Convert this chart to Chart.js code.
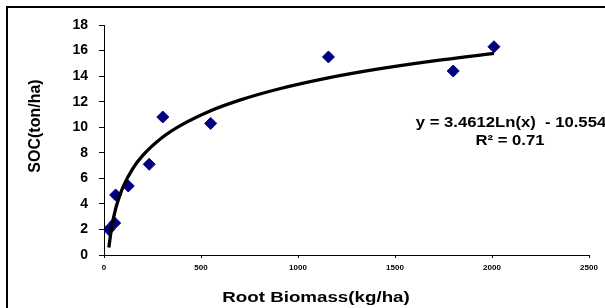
<!DOCTYPE html>
<html>

<head>
    <meta charset="utf-8">
    <title>SOC vs Root Biomass</title>
    <script src="https://cdn.jsdelivr.net/npm/chart.js"></script>
    <style>
        body {
            margin: 0;
            background: #fff;
        }

        #frame {
            position: absolute;
            left: 6px;
            top: 6px;
            width: 1000px;
            height: 1000px;
            border: 2px solid #000;
        }

        #graph {
            position: absolute;
            left: 0;
            top: 0;
        }
    </style>
</head>

<body>
    <div id="frame"></div>
    <canvas id="graph" width="605" height="308"></canvas>
    <script>
        // measured points
        const rootBiomass = [25, 55, 60, 125, 233, 303, 550, 1157, 1800, 2010];
        const soc = [2.0, 2.5, 4.7, 5.4, 7.1, 10.8, 10.3, 15.5, 14.4, 16.3];

        // log trend line
        const trendX = [25, 40, 60, 80, 100, 150, 200, 300, 400, 550, 700, 900, 1150, 1400, 1700, 2010];
        const trendY = [0.59, 2.21, 3.62, 4.61, 5.39, 6.79, 7.79, 9.19, 10.18, 11.29, 12.12, 12.99, 13.84, 14.52, 15.19, 15.78];

        const xTicks = [0, 500, 1000, 1500, 2000, 2500];
        const yTicks = [0, 2, 4, 6, 8, 10, 12, 14, 16, 18];

        const xTitle = 'Root Biomass(kg/ha)';
        const yTitle = 'SOC(ton/ha)';
        const eqLine1 = 'y = 3.4612Ln(x)  - 10.554';
        const eqLine2 = 'R² = 0.71';

        const FONT = '"Liberation Sans", Arial, sans-serif';

        // axis titles + equation (image is a bit stretched sideways)
        const labels = {
            id: 'labels',
            afterDraw(chart) {
                const ctx = chart.ctx;
                ctx.save();
                ctx.fillStyle = '#000';
                ctx.textAlign = 'center';
                ctx.textBaseline = 'middle';

                ctx.font = 'bold 14px ' + FONT;
                ctx.save();
                ctx.translate(511, 123);
                ctx.scale(1.19, 1);
                ctx.fillText(eqLine1, 0, 0);
                ctx.restore();
                ctx.save();
                ctx.translate(510, 141);
                ctx.scale(1.19, 1);
                ctx.fillText(eqLine2, 0, 0);
                ctx.restore();

                ctx.font = 'bold 15px ' + FONT;
                ctx.save();
                ctx.translate(316, 298);
                ctx.scale(1.25, 1);
                ctx.fillText(xTitle, 0, 0);
                ctx.restore();

                ctx.font = 'bold 16px ' + FONT;
                ctx.save();
                ctx.translate(36, 126);
                ctx.rotate(-Math.PI / 2);
                ctx.fillText(yTitle, 0, 0);
                ctx.restore();

                ctx.restore();
            }
        };

        const ctx = document.getElementById('graph').getContext('2d');
        new Chart(ctx, {
            type: 'scatter',
            data: {
                datasets: [
                    {
                        label: 'trend',
                        data: trendX.map((x, i) => ({ x: x, y: trendY[i] })),
                        showLine: true,
                        borderColor: '#000',
                        borderWidth: 3.3,
                        pointRadius: 0,
                        cubicInterpolationMode: 'monotone',
                        fill: false
                    },
                    {
                        label: 'SOC',
                        data: rootBiomass.map((x, i) => ({ x: x, y: soc[i] })),
                        pointStyle: 'rectRot',
                        pointRadius: 6,
                        backgroundColor: '#00007f',
                        borderColor: '#00007f',
                        borderWidth: 1
                    }
                ]
            },
            options: {
                responsive: false,
                animation: false,
                devicePixelRatio: 1,
                layout: { padding: { top: 25, right: 16, left: 0, bottom: 0 } },
                plugins: {
                    legend: { display: false },
                    tooltip: { enabled: false }
                },
                scales: {
                    x: {
                        type: 'linear',
                        min: 0,
                        max: 2500,
                        afterBuildTicks: s => { s.ticks = xTicks.map(v => ({ value: v })); },
                        afterFit: s => { s.height = 53; },
                        ticks: {
                            color: '#000',
                            font: { family: FONT, size: 8, weight: 'bold' },
                            padding: 5,
                            maxRotation: 0,
                            callback: v => String(v)
                        },
                        grid: { drawOnChartArea: false, color: '#000', tickLength: 3 },
                        border: { color: '#000', width: 1 }
                    },
                    y: {
                        min: 0,
                        max: 18,
                        afterBuildTicks: s => { s.ticks = yTicks.map(v => ({ value: v })); },
                        afterFit: s => { s.width = 104; },
                        ticks: {
                            color: '#000',
                            font: { family: FONT, size: 14, weight: 'bold' },
                            padding: 11,
                            callback: v => String(v)
                        },
                        grid: { drawOnChartArea: false, color: '#000', tickLength: 5 },
                        border: { color: '#000', width: 1 }
                    }
                }
            },
            plugins: [labels]
        });
    </script>
</body>

</html>
